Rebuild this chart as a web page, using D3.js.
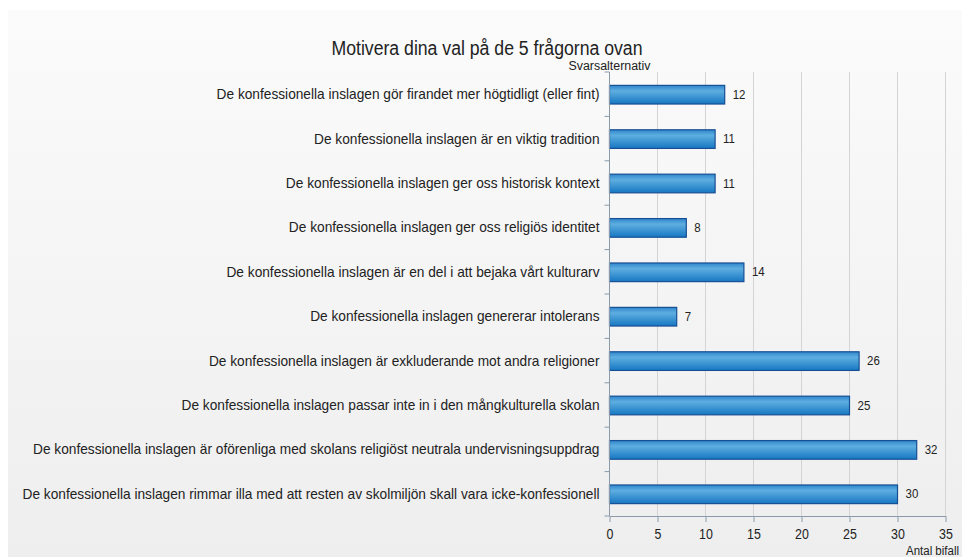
<!DOCTYPE html>
<html>
<head>
<meta charset="utf-8">
<script src="https://cdn.jsdelivr.net/npm/d3@7"></script>
<style>
  html, body { margin: 0; padding: 0; background: #ffffff; }
  svg { display: block; }
  text { font-family: "Liberation Sans", Arial, sans-serif; fill: #222; }
</style>
</head>
<body>
<div id="canvas"></div>
<script>
"use strict"

/* Data, top to bottom */
let answers = [
  "De konfessionella inslagen gör firandet mer högtidligt (eller fint)",
  "De konfessionella inslagen är en viktig tradition",
  "De konfessionella inslagen ger oss historisk kontext",
  "De konfessionella inslagen ger oss religiös identitet",
  "De konfessionella inslagen är en del i att bejaka vårt kulturarv",
  "De konfessionella inslagen genererar intolerans",
  "De konfessionella inslagen är exkluderande mot andra religioner",
  "De konfessionella inslagen passar inte in i den mångkulturella skolan",
  "De konfessionella inslagen är oförenliga med skolans religiöst neutrala undervisningsuppdrag",
  "De konfessionella inslagen rimmar illa med att resten av skolmiljön skall vara icke-konfessionell"
];
let counts = [12, 11, 11, 8, 14, 7, 26, 25, 32, 30];
let xTicks = [0, 5, 10, 15, 20, 25, 30, 35];

/* Drawing config */
let svgWidth = 962;
let svgHeight = 557;
let plot = { left: 609.5, right: 945.5, top: 72, bottom: 516 };

let svg = d3.select("#canvas")
    .append("svg")
    .attr("width", svgWidth)
    .attr("height", svgHeight);

/* No narrow font installed: squeeze text horizontally */
function squeeze(sel, k) {
    sel.each(function () {
        let w = this.getComputedTextLength();
        d3.select(this)
            .attr("textLength", w * k)
            .attr("lengthAdjust", "spacingAndGlyphs");
    });
}
function fitTo(sel, target) {
    sel.attr("textLength", target).attr("lengthAdjust", "spacingAndGlyphs");
}

let defs = svg.append("defs");

// panel background gradient
let bg = defs.append("linearGradient")
    .attr("id", "bg")
    .attr("x1", 0).attr("y1", 0).attr("x2", 0).attr("y2", 1);
bg.append("stop").attr("offset", "0%").attr("stop-color", "#fbfbfb");
bg.append("stop").attr("offset", "100%").attr("stop-color", "#eeeeee");

// bar gradient
let barGrad = defs.append("linearGradient")
    .attr("id", "bar")
    .attr("x1", 0).attr("y1", 0).attr("x2", 0).attr("y2", 1);
barGrad.append("stop").attr("offset", "0%").attr("stop-color", "#2f86cc");
barGrad.append("stop").attr("offset", "30%").attr("stop-color", "#5eaee0");
barGrad.append("stop").attr("offset", "100%").attr("stop-color", "#1677c2");

svg.append("rect")
    .attr("x", 8)
    .attr("y", 10)
    .attr("width", svgWidth - 8)
    .attr("height", svgHeight - 10)
    .attr("fill", "url(#bg)");

/* Scales */
let xScale = d3.scaleLinear()
    .domain([0, 35])
    .range([plot.left, plot.right]);

let yScale = d3.scaleBand()
    .domain(answers)
    .range([plot.top, plot.bottom])
    .paddingInner(0.58)
    .paddingOuter(0.29);

/* Vertical gridlines */
svg.append("g")
    .selectAll("line")
    .data(xTicks.slice(1))
    .join("line")
    .attr("x1", d => xScale(d))
    .attr("x2", d => xScale(d))
    .attr("y1", plot.top)
    .attr("y2", plot.bottom)
    .attr("stroke", "#d4d4d4")
    .attr("stroke-width", 1);

/* Bars */
svg.append("g")
    .selectAll("rect")
    .data(counts)
    .join("rect")
    .attr("x", xScale(0))
    .attr("y", (d, i) => yScale(answers[i]) + 0.5)
    .attr("width", d => xScale(d) - xScale(0))
    .attr("height", yScale.bandwidth())
    .attr("fill", "url(#bar)")
    .attr("stroke", "#174f94")
    .attr("stroke-width", 1.2);

/* Value labels */
let valueLabels = svg.append("g")
    .selectAll("text")
    .data(counts)
    .join("text")
    .attr("x", d => xScale(d) + 8)
    .attr("y", (d, i) => yScale(answers[i]) + yScale.bandwidth() / 2 + 1)
    .attr("dominant-baseline", "middle")
    .attr("font-size", "13.5px")
    .text(d => d);
squeeze(valueLabels, 0.85);

/* Y axis (category labels) */
let yAxis = svg.append("g")
    .attr("transform", "translate(" + plot.left + ",0)");

yAxis.append("line")
    .attr("x1", 0).attr("x2", 0)
    .attr("y1", plot.top).attr("y2", plot.bottom)
    .attr("stroke", "#8a9aaa");

// ticks sit between categories
yAxis.selectAll("line.tick")
    .data(d3.range(answers.length + 1))
    .join("line")
    .attr("class", "tick")
    .attr("x1", -5).attr("x2", 0)
    .attr("y1", i => plot.top + i * (plot.bottom - plot.top) / answers.length)
    .attr("y2", i => plot.top + i * (plot.bottom - plot.top) / answers.length)
    .attr("stroke", "#8a9aaa");

let catLabels = yAxis.selectAll("text")
    .data(answers)
    .join("text")
    .attr("x", -10)
    .attr("y", d => yScale(d) + yScale.bandwidth() / 2 + 1)
    .attr("text-anchor", "end")
    .attr("dominant-baseline", "middle")
    .attr("font-size", "15px")
    .text(d => d);

// scale all labels so the longest one spans the same width as in the picture
let longest = d3.max(catLabels.nodes(), n => n.getComputedTextLength());
squeeze(catLabels, 577 / longest);

/* X axis */
let xAxis = svg.append("g")
    .attr("transform", "translate(0," + plot.bottom + ")")
    .call(d3.axisBottom(xScale).tickValues(xTicks).tickSize(6).tickSizeOuter(0));

xAxis.select(".domain").attr("stroke", "#8a9aaa");
xAxis.selectAll(".tick line").attr("stroke", "#8a9aaa");
let tickLabels = xAxis.selectAll(".tick text")
    .attr("font-family", "\"Liberation Sans\", Arial, sans-serif")
    .attr("font-size", "15.5px")
    .attr("fill", "#222")
    .attr("dy", "0.9em");
squeeze(tickLabels, 0.8);

/* Titles */
let title = svg.append("text")
    .attr("x", 487)
    .attr("y", 55)
    .attr("text-anchor", "middle")
    .attr("font-size", "20px")
    .text("Motivera dina val på de 5 frågorna ovan");
fitTo(title, 311);

let yTitle = svg.append("text")
    .attr("x", plot.left)
    .attr("y", 70)
    .attr("text-anchor", "middle")
    .attr("font-size", "12.5px")
    .text("Svarsalternativ");
fitTo(yTitle, 82);

let xTitle = svg.append("text")
    .attr("x", 906)
    .attr("y", 555)
    .attr("text-anchor", "start")
    .attr("font-size", "12px")
    .text("Antal bifall");
fitTo(xTitle, 53);
</script>
</body>
</html>
